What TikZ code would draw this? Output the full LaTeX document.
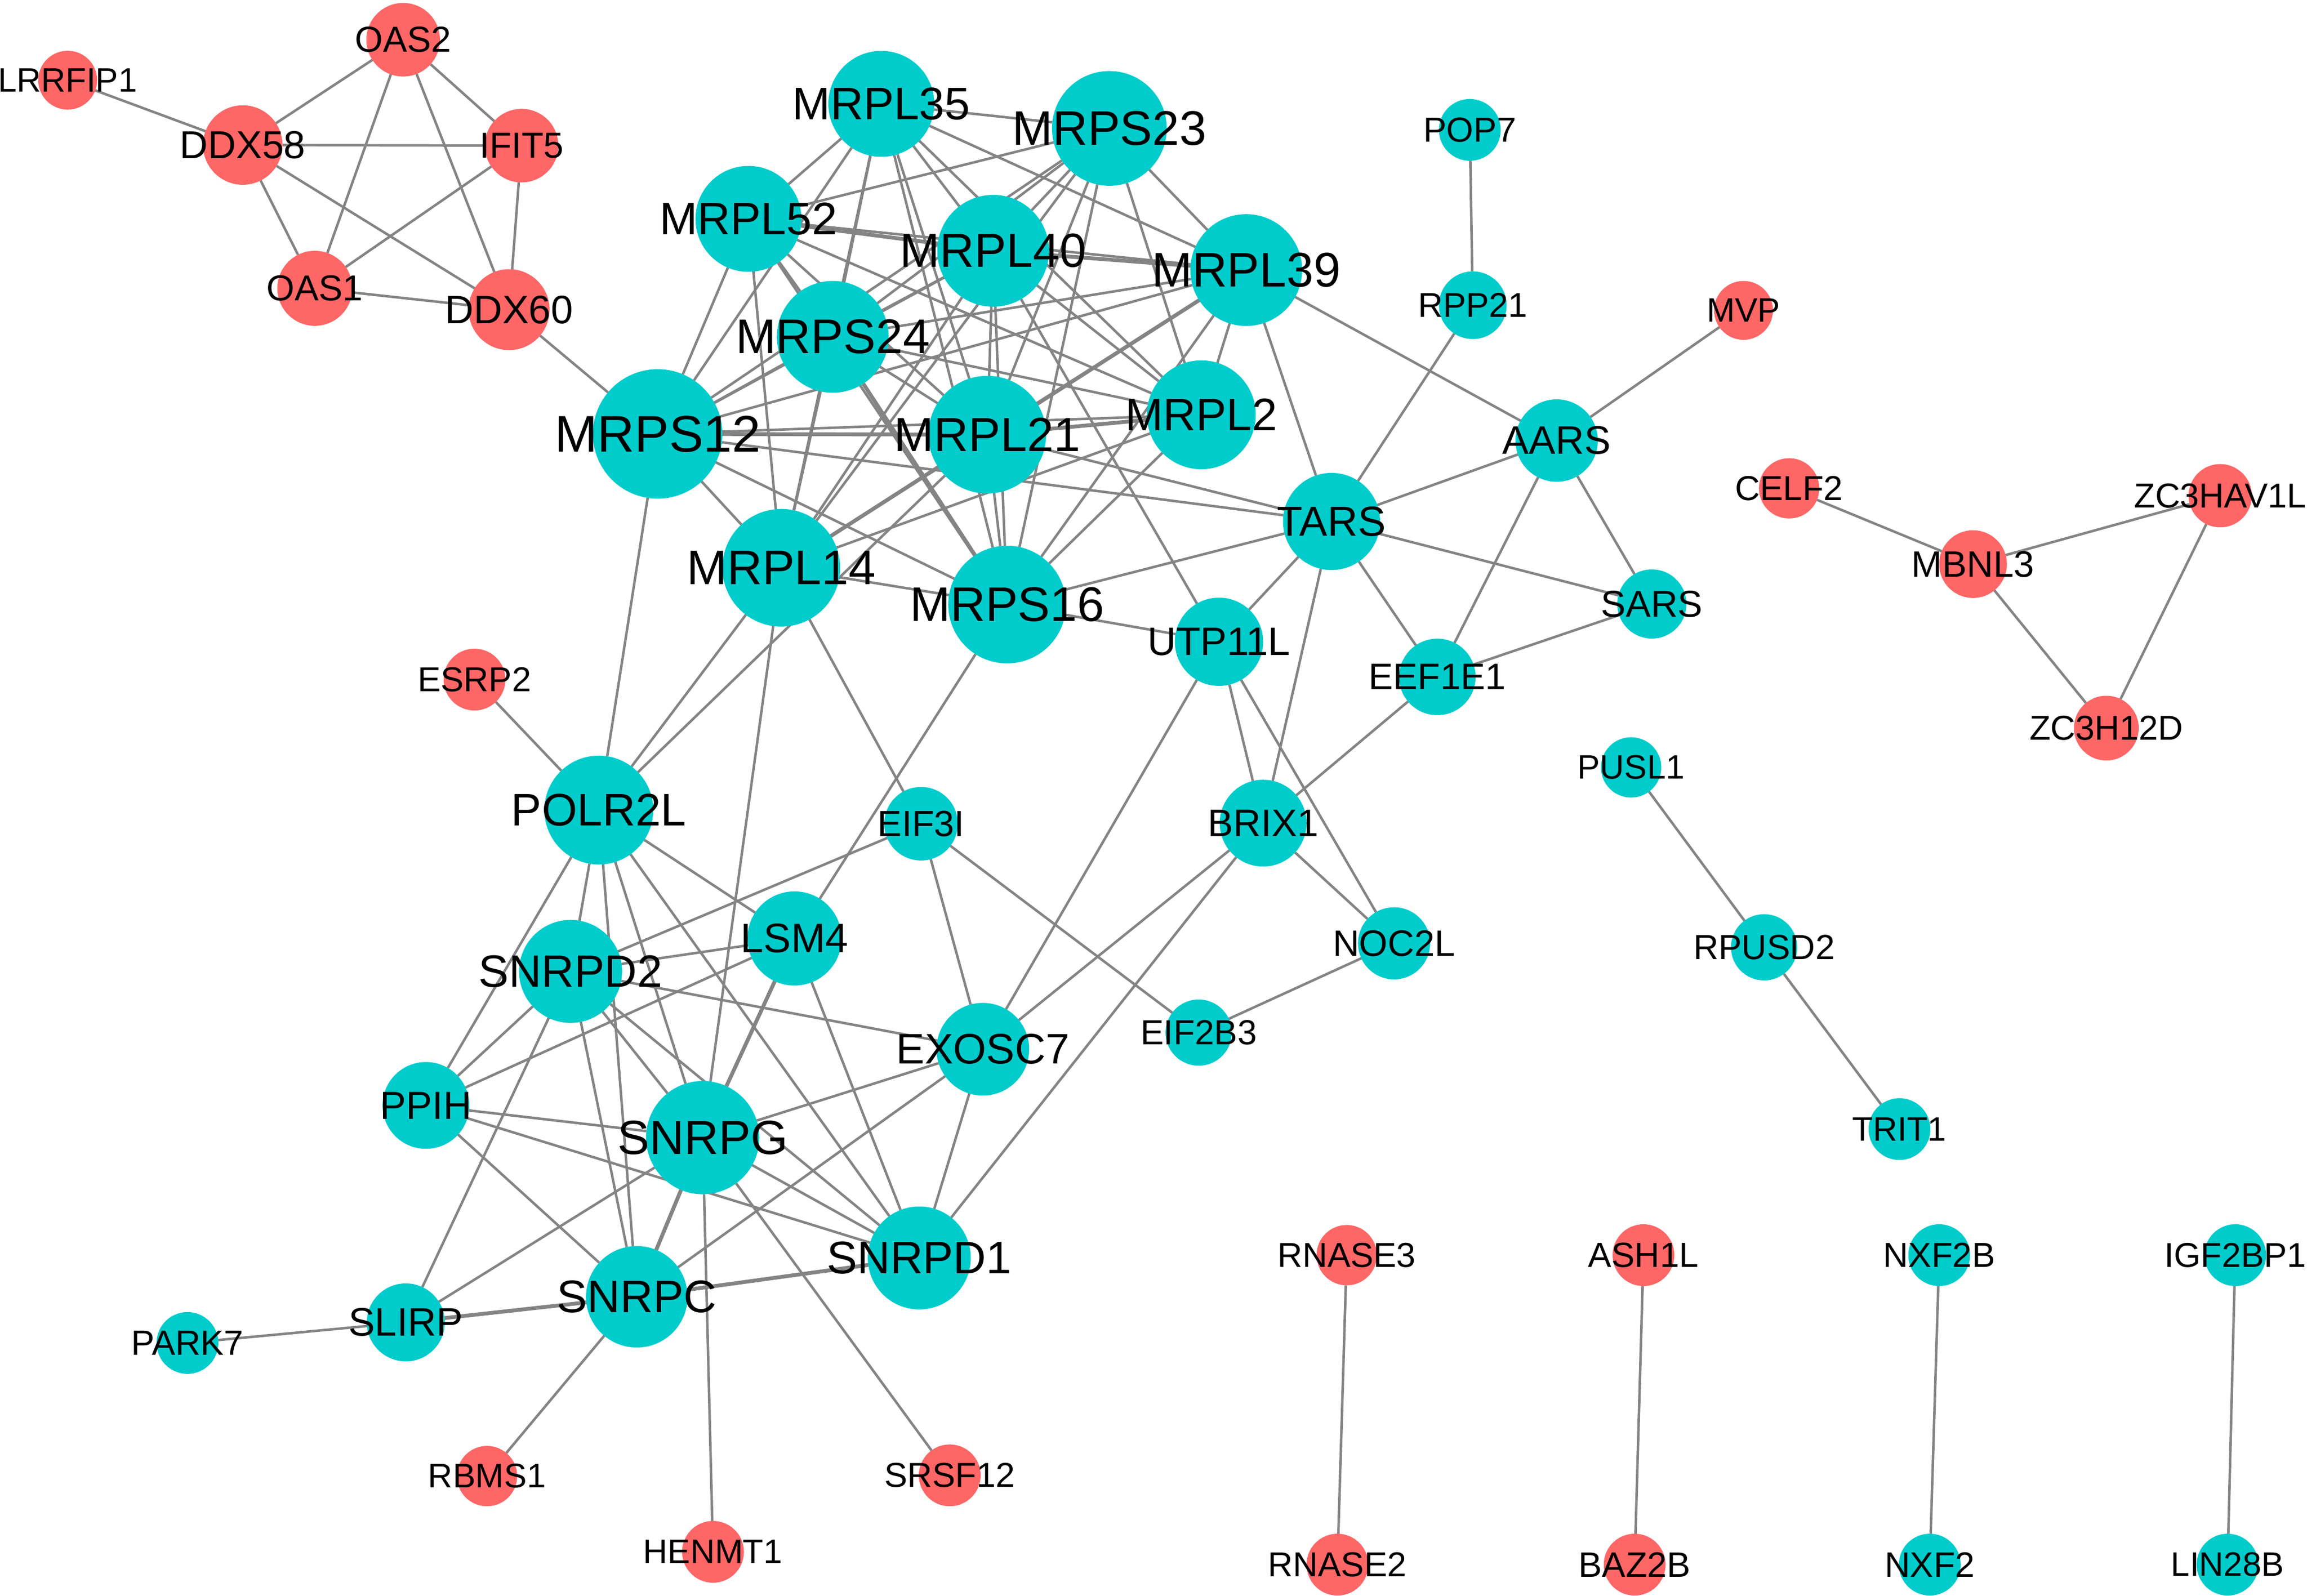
\documentclass[tikz,border=0pt]{standalone}
\usepackage{fontspec}
\setmainfont{Liberation Sans}
\pgfdeclarelayer{bottom}
\pgfdeclarelayer{background}
\pgfdeclarelayer{labels}
\pgfsetlayers{bottom,background,main,labels}
\definecolor{tealc}{RGB}{0,204,204}
\definecolor{redc}{RGB}{255,102,102}
\definecolor{edgec}{RGB}{132,132,132}
\newcommand{\fsz}[1]{\fontsize{#1}{#1}\selectfont}
\tikzset{
  gnode/.style={circle, draw=none, inner sep=0pt, outer sep=0pt},
  edge/.style={draw=edgec, line width=1.7pt},
  thickedge/.style={draw=edgec, line width=2.6pt},
  gene/.style={inner sep=0pt, text=black},
}
\begin{document}
\begin{tikzpicture}[x=1pt,y=-1pt]
\begin{pgfonlayer}{bottom}
\fill[white] (0,0) rectangle (1568,1085);
\end{pgfonlayer}
\useasboundingbox (0,0) rectangle (1568,1085);

% name / x / y / diameter / font size / colour
\foreach \n/\x/\y/\d/\f/\c in {
  LRRFIP1/46/54.5/40/23/redc, OAS2/274/27/50/24.5/redc, DDX58/165/98.6/54/26.5/redc,
  IFIT5/354.5/99/50/24.5/redc, OAS1/214/196/51/24.5/redc, DDX60/346/210.5/55/27/redc,
  MVP/1185/211/40/23/redc, CELF2/1216/332/41/23.5/redc, ZC3HAV1L/1509/337/43/23.5/redc,
  MBNL3/1341/383.5/46/25/redc, ZC3H12D/1431.6/495/44/23.5/redc, ESRP2/322.5/462/42/23.5/redc,
  RBMS1/331/1003.5/41/23.2/redc, HENMT1/484.6/1055/42/23/redc, SRSF12/645.5/1003/42/23.5/redc,
  RNASE3/915.3/853.3/41/23.5/redc, RNASE2/909/1063.7/42/23.5/redc, ASH1L/1117/853.3/42/23.7/redc,
  BAZ2B/1111/1063.7/42/24/redc,
  MRPL35/599/70.6/72/31/tealc, MRPS23/754/87.3/78/33/tealc, MRPL52/508.7/148.8/72/31/tealc,
  MRPL40/675/170.5/76/32.5/tealc, MRPL39/847/183.6/76/33/tealc, MRPS24/566/229/76/33/tealc,
  MRPS12/447/295/88/35/tealc, MRPL21/671/295.5/80/32.5/tealc, MRPL2/816.5/282/74/31/tealc,
  MRPL14/531/386/80/33/tealc, MRPS16/684.5/411/80/33/tealc, TARS/905/354.5/66/28.5/tealc,
  UTP11L/828.5/436.3/60/27/tealc, AARS/1058/299.5/56/27/tealc, POP7/999/88.3/42/23.6/tealc,
  RPP21/1001/207.5/46/23.4/tealc, SARS/1122.7/410.6/47/25.4/tealc, EEF1E1/976.9/460.2/52/25/tealc,
  BRIX1/858.5/559.6/59/26/tealc, NOC2L/947.5/641.3/49/25/tealc, EIF2B3/814.7/702/45/23.7/tealc,
  EIF3I/626/560/50/24.7/tealc, POLR2L/407/550.7/74/31/tealc, LSM4/540/638/64/28/tealc,
  SNRPD2/387.8/660.4/70/30.8/tealc, EXOSC7/668/713.3/63/29/tealc, PPIH/289.5/751.5/59/26.6/tealc,
  SNRPG/477.6/773.4/77/32.6/tealc, SNRPD1/624.8/855.2/70/31/tealc, SNRPC/432.8/881.6/69/31/tealc,
  SLIRP/275.8/899/53/27/tealc, PARK7/127.4/913/42/23.8/tealc, PUSL1/1108.6/521.7/41/23/tealc,
  RPUSD2/1199/644/45/23.7/tealc, TRIT1/1291/767.6/42/23/tealc, NXF2B/1318/853.3/42/23.6/tealc,
  IGF2BP1/1519.2/853.3/42/23.4/tealc, NXF2/1311.6/1063.7/42/24/tealc, LIN28B/1514/1063.7/42/23/tealc}
{
  \node[gnode, fill=\c, minimum size=\d pt] (\n) at (\x,\y) {};
  \begin{pgfonlayer}{labels}
    \node[gene, font=\fsz{\f}] at (\x,\y) {\n};
  \end{pgfonlayer}
}

\begin{pgfonlayer}{background}
% interferon cluster
\foreach \a/\b in {LRRFIP1/DDX58, DDX58/OAS2, DDX58/IFIT5, DDX58/OAS1, DDX58/DDX60,
  OAS2/OAS1, OAS2/DDX60, OAS2/IFIT5, IFIT5/OAS1, IFIT5/DDX60, OAS1/DDX60, DDX60/MRPS12}
  \draw[edge] (\a) -- (\b);
% mitochondrial ribosome cluster
\foreach \a/\b in {MRPL35/MRPS23, MRPL35/MRPL52, MRPL35/MRPL40, MRPL35/MRPL39, MRPL35/MRPS24,
  MRPL35/MRPS12, MRPL35/MRPL21, MRPL35/MRPL2, MRPL35/MRPL14, MRPL35/MRPS16,
  MRPS23/MRPL52, MRPS23/MRPL40, MRPS23/MRPL39, MRPS23/MRPS24, MRPS23/MRPS12,
  MRPS23/MRPL21, MRPS23/MRPL2, MRPS23/MRPL14, MRPS23/MRPS16,
  MRPL52/MRPL39, MRPL52/MRPS24, MRPL52/MRPS12, MRPL52/MRPL21, MRPL52/MRPL2,
  MRPL52/MRPL14, MRPL52/MRPS16,
  MRPL40/MRPS24, MRPL40/MRPS12, MRPL40/MRPL21, MRPL40/MRPL2, MRPL40/MRPL14, MRPL40/MRPS16,
  MRPL39/MRPS24, MRPL39/MRPS12, MRPL39/MRPL21, MRPL39/MRPL2, MRPL39/MRPS16,
  MRPS24/MRPS12, MRPS24/MRPL21, MRPS24/MRPL2, MRPS24/MRPL14,
  MRPS12/MRPL2, MRPS12/MRPL14, MRPS12/MRPS16,
  MRPL21/MRPL14, MRPL21/MRPS16,
  MRPL2/MRPL14, MRPL2/MRPS16,
  MRPL14/MRPS16}
  \draw[edge] (\a) -- (\b);
\foreach \a/\b in {MRPL52/MRPL40, MRPL40/MRPL39, MRPS12/MRPL21, MRPL21/MRPL2,
  MRPL39/MRPL14, MRPS24/MRPS16}
  \draw[thickedge] (\a) -- (\b);
% links out of the ribosome cluster
\foreach \a/\b in {MRPS12/POLR2L, MRPS12/TARS, MRPL21/TARS, MRPL39/TARS, MRPL39/AARS,
  MRPS16/TARS, MRPS16/UTP11L, MRPS16/LSM4, MRPL40/UTP11L, MRPL14/POLR2L, MRPL21/POLR2L,
  MRPL14/SNRPG, MRPL14/EIF3I,
  TARS/RPP21, TARS/AARS, TARS/SARS, TARS/EEF1E1, TARS/BRIX1, TARS/UTP11L,
  RPP21/POP7, AARS/MVP, AARS/SARS, AARS/EEF1E1, SARS/EEF1E1,
  UTP11L/BRIX1, UTP11L/NOC2L, UTP11L/EXOSC7,
  BRIX1/EEF1E1, BRIX1/NOC2L, BRIX1/EXOSC7, BRIX1/SNRPD1,
  NOC2L/EIF2B3, EIF3I/EIF2B3, EIF3I/EXOSC7, EIF3I/SNRPD2,
  ESRP2/POLR2L,
  POLR2L/SNRPD2, POLR2L/PPIH, POLR2L/SNRPC, POLR2L/SNRPG, POLR2L/SNRPD1, POLR2L/LSM4,
  SNRPD2/LSM4, SNRPD2/EXOSC7, SNRPD2/PPIH, SNRPD2/SLIRP, SNRPD2/SNRPC, SNRPD2/SNRPG, SNRPD2/SNRPD1,
  LSM4/PPIH, LSM4/SNRPD1,
  PPIH/SNRPG, PPIH/SNRPD1, PPIH/SNRPC,
  SNRPG/EXOSC7, SNRPG/SNRPD1, SNRPG/SLIRP, SNRPG/HENMT1, SNRPG/SRSF12,
  SNRPC/RBMS1, SNRPC/EXOSC7, SLIRP/PARK7, EXOSC7/SNRPD1}
  \draw[edge] (\a) -- (\b);
\foreach \a/\b in {LSM4/SNRPG, SNRPG/SNRPC, SNRPC/SLIRP, SNRPC/SNRPD1}
  \draw[thickedge] (\a) -- (\b);
% small separate groups
\foreach \a/\b in {CELF2/MBNL3, MBNL3/ZC3HAV1L, MBNL3/ZC3H12D, ZC3HAV1L/ZC3H12D,
  PUSL1/RPUSD2, RPUSD2/TRIT1, RNASE3/RNASE2, ASH1L/BAZ2B, NXF2B/NXF2, IGF2BP1/LIN28B}
  \draw[edge] (\a) -- (\b);
\end{pgfonlayer}
\end{tikzpicture}
\end{document}
